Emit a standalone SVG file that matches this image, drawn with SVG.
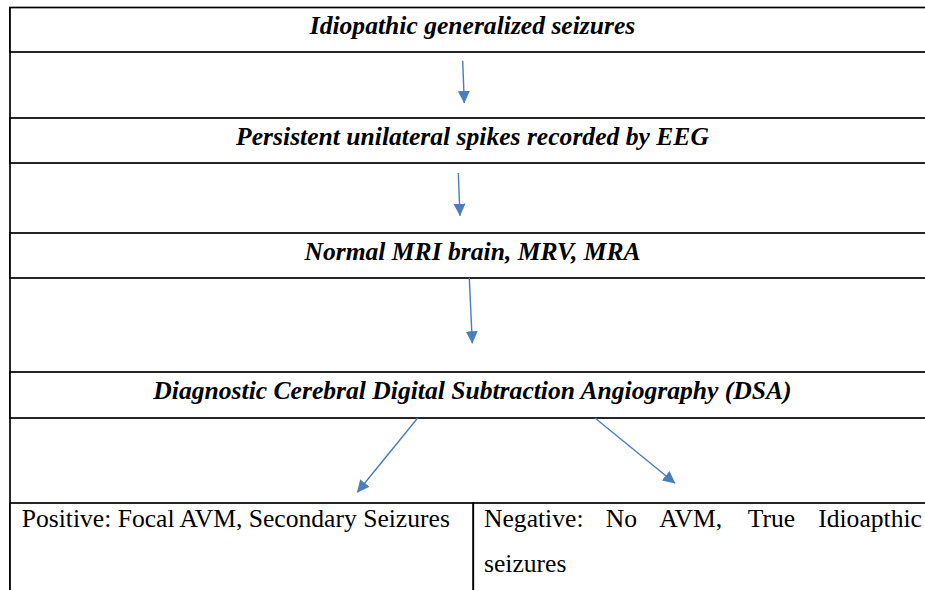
<svg xmlns="http://www.w3.org/2000/svg" width="925" height="590" viewBox="0 0 925 590">
<style>
.cell{fill:#ffffff;stroke:#000000;stroke-width:1.7}
.rule{stroke:#000000;stroke-width:1.7;fill:none}
.t{font-family:'Liberation Serif','Times New Roman',serif;font-size:25.6px;fill:#000000}
.hd{font-weight:bold;font-style:italic;text-anchor:middle}
.arr{stroke:#4A7EBB;stroke-width:1.4;fill:none;marker-end:url(#ah)}
</style>
<defs>
<marker id="ah" markerUnits="userSpaceOnUse" markerWidth="13" markerHeight="13" viewBox="0 0 13 13" refX="12" refY="6.5" orient="auto">
<path d="M0,0.5 L12.5,6.5 L0,12.5 z" fill="#4A7EBB"/>
</marker>
</defs>
<rect width="925" height="590" fill="#ffffff"/>
<g id="frame">
<line class="rule" x1="10" y1="7.5" x2="10" y2="595"/>
</g>
<g id="n1">
<rect class="cell" x="10" y="7.5" width="930" height="44.5"/>
<text class="t hd" x="472.5" y="34">Idiopathic generalized seizures</text>
</g>
<g id="n2">
<rect class="cell" x="10" y="118" width="930" height="45"/>
<text class="t hd" x="472.5" y="145">Persistent unilateral spikes recorded by EEG</text>
</g>
<g id="n3">
<rect class="cell" x="10" y="233" width="930" height="45"/>
<text class="t hd" x="472.5" y="260">Normal MRI brain, MRV, MRA</text>
</g>
<g id="n4">
<rect class="cell" x="10" y="372" width="930" height="46"/>
<text class="t hd" x="472.5" y="399">Diagnostic Cerebral Digital Subtraction Angiography (DSA)</text>
</g>
<g id="n5">
<rect class="cell" x="10" y="503" width="463.3" height="100"/>
<text class="t" x="21.7" y="527">Positive: Focal AVM, Secondary Seizures</text>
</g>
<g id="n6">
<rect class="cell" x="473.3" y="503" width="470" height="100"/>
<text class="t" y="527"><tspan x="484">Negative:</tspan><tspan x="605.8">No</tspan><tspan x="659.3">AVM,</tspan><tspan x="747.7">True</tspan><tspan x="818.2">Idioapthic</tspan></text>
<text class="t" x="484" y="572">seizures</text>
</g>
<g id="connectors">
<line class="arr" x1="462.7" y1="60.7" x2="464.3" y2="103"/>
<line class="arr" x1="458.3" y1="173" x2="460" y2="215.7"/>
<line class="arr" x1="469.3" y1="278" x2="472.3" y2="343.3"/>
<line class="arr" x1="417.7" y1="418" x2="357.3" y2="492.3"/>
<line class="arr" x1="595" y1="418" x2="675" y2="483.3"/>
</g>
</svg>
